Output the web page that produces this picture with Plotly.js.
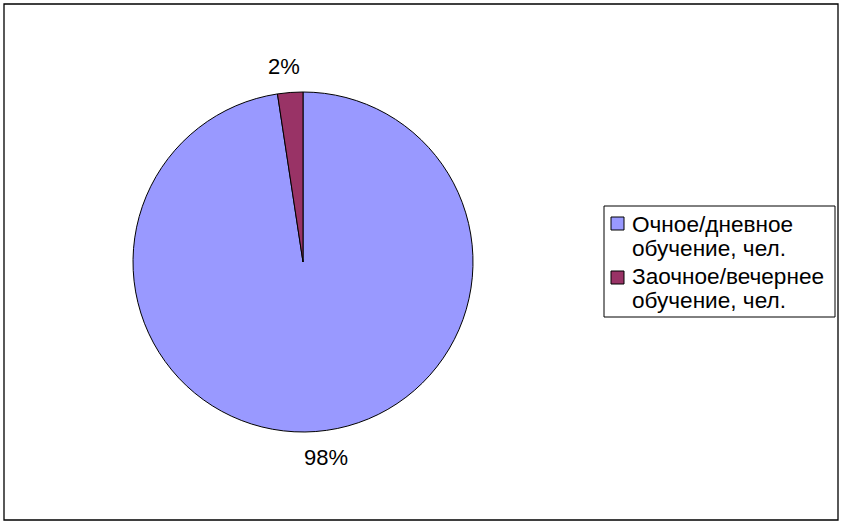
<!DOCTYPE html>
<html><head><meta charset="utf-8">
<script src="https://cdn.plot.ly/plotly-3.0.1.min.js"></script>
<style>html,body{margin:0;padding:0;background:#fff;}#chart{width:842px;height:524px;}</style>
</head><body><div id="chart"></div>
<script>
const categories = ["Очное/дневное<br>обучение, чел.", "Заочное/вечернее<br>обучение, чел."];
const values = [97.6, 2.4];
const colors = ["#9999FF", "#993366"];

const W = 842, H = 524;
const cx = 303, cy = 262, r = 170;
const FONT = 'Liberation Sans, Arial, sans-serif';
const FS = 22;
const LFS = 22.6;

const trace = {
  type: 'pie',
  labels: categories,
  values: values,
  sort: false,
  direction: 'clockwise',
  rotation: 0,
  marker: {colors: colors, line: {color: '#000', width: 1}},
  textinfo: 'none',
  hoverinfo: 'none',
  showlegend: false,
  domain: {x: [(cx - r) / W, (cx + r) / W], y: [(H - cy - r) / H, (H - cy + r) / H]}
};

const px2x = p => p / W;
const px2y = p => 1 - p / H;

// percentage labels outside each slice at its mid-angle, computed from the data
const total = values.reduce((a, b) => a + b, 0);
const annotations = [];
const shapes = [];
let cum = 0;
values.forEach((v, i) => {
  const mid = (cum + v / 2) / total * 2 * Math.PI; // clockwise from 12 o'clock
  cum += v;
  const d = r + 26;
  const px = cx + d * Math.sin(mid) + (i === 0 ? 8 : -4);
  const py = cy - d * Math.cos(mid);
  annotations.push({
    xref: 'paper', yref: 'paper', x: px2x(px), y: px2y(py),
    xanchor: 'center', yanchor: 'middle', showarrow: false,
    text: Math.round(v / total * 100) + '%',
    font: {family: FONT, size: FS, color: '#000'}
  });
});

// legend (box, swatches, text lines)
const LX0 = 604, LX1 = 835, LY0 = 206, LY1 = 317;
shapes.push({type: 'rect', xref: 'paper', yref: 'paper',
  x0: px2x(LX0), x1: px2x(LX1), y0: px2y(LY1), y1: px2y(LY0),
  line: {color: '#000', width: 1}, fillcolor: '#fff', layer: 'below'});
categories.forEach((cat, i) => {
  const base0 = 232 + i * 52;
  const sy = 217 + i * 54;
  shapes.push({type: 'rect', xref: 'paper', yref: 'paper',
    x0: px2x(611), x1: px2x(624), y0: px2y(sy + 13), y1: px2y(sy),
    line: {color: '#000', width: 1}, fillcolor: colors[i]});
  cat.split('<br>').forEach((line, j) => {
    const base = base0 + j * 24;
    annotations.push({
      xref: 'paper', yref: 'paper', x: px2x(630), y: px2y(base - 0.33 * LFS),
      xanchor: 'left', yanchor: 'middle', showarrow: false,
      text: line, font: {family: FONT, size: LFS, color: '#000'}
    });
  });
});

// outer frame
shapes.push({type: 'rect', xref: 'paper', yref: 'paper',
  x0: px2x(4), x1: px2x(838), y0: px2y(520), y1: px2y(4),
  line: {color: '#000', width: 1.3}});

const layout = {
  width: W, height: H,
  margin: {l: 0, r: 0, t: 0, b: 0},
  paper_bgcolor: '#fff',
  font: {family: FONT, size: FS, color: '#000'},
  showlegend: false,
  annotations: annotations,
  shapes: shapes
};

Plotly.newPlot('chart', [trace], layout, {staticPlot: true});
</script>
</body></html>
